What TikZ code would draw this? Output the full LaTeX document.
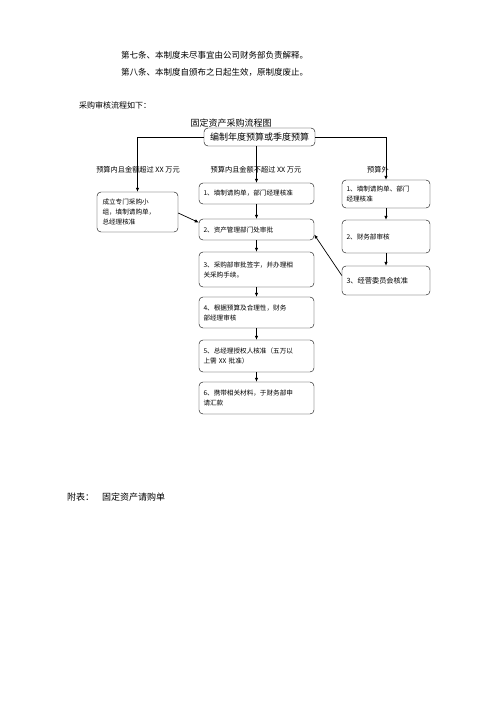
\documentclass[tikz,border=0pt]{standalone}
\usepackage{fontspec}
\setmainfont{Noto Sans CJK SC}
\usetikzlibrary{arrows.meta, positioning}

\begin{document}
\begin{tikzpicture}[
    x=1pt, y=-1pt,
    txt/.style={anchor=west, inner sep=0pt, font=\fontsize{8.5}{10}\selectfont},
    box/.style={draw, rounded corners=4pt, align=left, inner sep=3pt,
                font=\fontsize{6.6}{10}\selectfont, minimum width=115pt},
    rbox/.style={box, minimum width=88pt},
    lab/.style={inner sep=0pt, font=\fontsize{7.2}{9}\selectfont},
    flow/.style={-{Latex[length=4pt, width=3.5pt]}, line width=0.7pt},
  ]
  \useasboundingbox (0,0) rectangle (500,707);

  % --- text above the chart ---
  \node[txt] (art7) at (121,55) {第七条、本制度未尽事宜由公司财务部负责解释。};
  \node[txt] (art8) at (121,72) {第八条、本制度自颁布之日起生效，原制度废止。};
  \node[txt, font=\fontsize{8}{10}\selectfont] (intro) at (79,105) {采购审核流程如下：};
  \node[font=\fontsize{9}{10}\selectfont, inner sep=0pt] (title) at (231,123) {固定资产采购流程图};

  % --- budget box ---
  \node[box, align=center, minimum width=111pt, minimum height=18pt, inner sep=1pt,
        font=\fontsize{9}{10}\selectfont] (budget) at (259.5,137) {编制年度预算或季度预算};

  % --- branch labels ---
  \node[lab] (labhigh) at (138,170) {预算内且金额超过 XX 万元};
  \node[lab] (lablow) at (256,170) {预算内且金额不超过 XX 万元};
  \node[lab] (labout) at (378,170) {预算外};

  % --- left branch ---
  \node[box, minimum width=81pt, minimum height=40pt, text width=70pt] (group) at (137.5,212)
    {成立专门采购小\\组，填制请购单，\\总经理核准};

  % --- main chain ---
  \node[box, minimum height=21pt, text width=106pt] (fill) at (256.5,193.5) {1、填制请购单，部门经理核准};
  \node[box, minimum height=21pt, text width=106pt] (asset) at (256.5,229.5) {2、资产管理部门处审批};
  \node[box, minimum height=35pt, text width=106pt] (purch) at (256.5,269.5) {3、采购部审批签字，并办理相\\关采购手续。};
  \node[box, minimum height=31pt, text width=106pt] (fincheck) at (256.5,312.5) {4、根据预算及合理性，财务\\部经理审核};
  \node[box, minimum height=32pt, text width=106pt] (gm) at (256.5,356) {5、总经理授权人核准（五万以\\上需 XX 批准）};
  \node[box, minimum height=32pt, text width=106pt] (pay) at (256.5,398) {6、携带相关材料，于财务部申\\请汇款};

  % --- right branch ---
  \node[rbox, minimum height=28pt, text width=79pt] (rfill) at (386,194) {1、填制请购单、部门\\经理核准};
  \node[rbox, minimum height=33pt, text width=79pt] (rfin) at (386,236.5) {2、财务部审核};
  \node[rbox, minimum height=29pt, text width=79pt, font=\fontsize{7.2}{10}\selectfont] (board) at (386,280.5) {3、经营委员会核准};

  % --- connectors ---
  \draw[flow] (budget.west) -| (group.north);
  \draw[flow] (fill.north |- budget.south) -- (fill.north);
  \draw[flow] (budget.east) -| (rfill.north);

  \draw[flow] (fill) -- (asset);
  \draw[flow] (asset) -- (purch);
  \draw[flow] (purch) -- (fincheck);
  \draw[flow] (fincheck) -- (gm);
  \draw[flow] (gm) -- (pay);

  \draw[flow] (rfill) -- (rfin);
  \draw[flow] (rfin) -- (board);

  \draw[flow] ([yshift=-1pt]group.east) -- ([yshift=7pt]asset.west);
  \draw[flow] ([yshift=5pt]board.west) -- ([yshift=-5pt]asset.east);

  % --- appendix ---
  \node[txt, font=\fontsize{9}{10}\selectfont] (annex) at (67,497) {附表：\hspace{8pt}固定资产请购单};
\end{tikzpicture}
\end{document}
